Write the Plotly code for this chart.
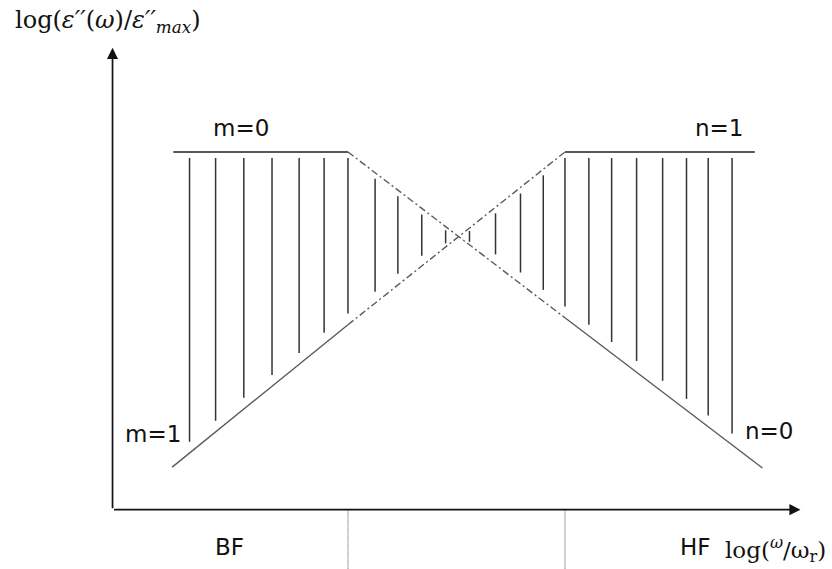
import numpy as np
import plotly.graph_objects as go

# Schematic of the dielectric loss spectrum, in decades of log(omega/omega_r)
# (x) and log(eps''/eps''_max) (y).

# low-frequency power law (slope m) and its extrapolation
rise_x = [-2.62, -1.0, 1.0]
rise_y = [-3.63, -1.99, 0.0]
# high-frequency power law (slope n-1) and its extrapolation
fall_x = [-1.0, 1.0, 2.82]
fall_y = [0.0, -1.91, -3.64]
# flat limits m=0 and n=1
flat_left_x = [-2.61, -1.0]
flat_right_x = [1.0, 2.75]
flat_y = 0.0

# hatching positions across the shaded regions
hatch_x = [-2.46, -2.22, -1.96, -1.70, -1.45, -1.22, -1.0, -0.75, -0.54, -0.32, -0.10,
           0.12, 0.36, 0.59, 0.80, 1.0, 1.22, 1.43, 1.66, 1.90, 2.12, 2.32, 2.54]

# domain boundaries (BF | middle | HF)
bound_x = [-1.0, 1.0]

# axis frame
origin = (-3.17, -4.12)
x_tip = 3.17
y_tip = 1.2

region_labels = ["BF", "HF"]
region_label_x = [-2.09, 2.20]
curve_labels = ["m=0", "m=1", "n=1", "n=0"]
curve_label_pos = [(-1.99, 0.28), (-2.80, -3.25), (2.42, 0.28), (2.88, -3.21)]

X_RANGE = [-4.207, 3.461]
Y_RANGE = [-4.804, 1.751]

fig = go.Figure()

line_col = "#222222"
slope_col = "#5a5a5a"

# flat segments
for xs in (flat_left_x, flat_right_x):
    fig.add_trace(go.Scatter(x=xs, y=[flat_y, flat_y], mode="lines",
                             line=dict(color=line_col, width=1.6),
                             hoverinfo="skip", showlegend=False))

# rising line: solid part then dash-dot extrapolation
fig.add_trace(go.Scatter(x=rise_x[:2], y=rise_y[:2], mode="lines",
                         line=dict(color=slope_col, width=1.4),
                         hoverinfo="skip", showlegend=False))
fig.add_trace(go.Scatter(x=rise_x[1:], y=rise_y[1:], mode="lines",
                         line=dict(color=slope_col, width=1.4, dash="7px,3px,2px,3px"),
                         hoverinfo="skip", showlegend=False))
# falling line: dash-dot extrapolation then solid part
fig.add_trace(go.Scatter(x=fall_x[:2], y=fall_y[:2], mode="lines",
                         line=dict(color=slope_col, width=1.4, dash="7px,3px,2px,3px"),
                         hoverinfo="skip", showlegend=False))
fig.add_trace(go.Scatter(x=fall_x[1:], y=fall_y[1:], mode="lines",
                         line=dict(color=slope_col, width=1.4),
                         hoverinfo="skip", showlegend=False))

# hatching between the envelope curves
hx, hy = [], []
for x in hatch_x:
    # beyond their drawn ranges both power laws lie above the flat limit
    r = np.interp(x, rise_x, rise_y, right=np.inf)
    f = np.interp(x, fall_x, fall_y, left=np.inf)
    upper = min(flat_y, max(r, f))
    lower = min(r, f)
    span = upper - lower
    top = upper - min(0.07, 0.18 * span)
    bot = lower + min(0.13, 0.18 * span)
    hx += [x, x, None]
    hy += [top, bot, None]
fig.add_trace(go.Scatter(x=hx, y=hy, mode="lines",
                         line=dict(color="#333333", width=1.5),
                         hoverinfo="skip", showlegend=False))

# dotted boundaries below the frequency axis
for bx in bound_x:
    fig.add_trace(go.Scatter(x=[bx, bx], y=[origin[1], Y_RANGE[0]], mode="lines",
                             line=dict(color="#444444", width=1, dash="1px,1px"),
                             hoverinfo="skip", showlegend=False))

annotations = []
# axes with arrow heads
annotations.append(dict(x=x_tip, y=origin[1], ax=origin[0], ay=origin[1],
                        xref="x", yref="y", axref="x", ayref="y", text="",
                        showarrow=True, arrowhead=2, arrowsize=1.3, arrowwidth=1.7,
                        arrowcolor="#111111", standoff=0))
annotations.append(dict(x=origin[0], y=y_tip, ax=origin[0], ay=origin[1],
                        xref="x", yref="y", axref="x", ayref="y", text="",
                        showarrow=True, arrowhead=2, arrowsize=1.3, arrowwidth=1.7,
                        arrowcolor="#111111", standoff=0))

sans = dict(family="DejaVu Sans", size=23, color="#111111")
for txt, (tx, ty) in zip(curve_labels, curve_label_pos):
    annotations.append(dict(x=tx, y=ty, xref="x", yref="y", text=txt,
                            showarrow=False, font=sans, xanchor="center"))
for txt, tx in zip(region_labels, region_label_x):
    annotations.append(dict(x=tx, y=-4.55, xref="x", yref="y", text=txt,
                            showarrow=False, font=sans, xanchor="center"))

annotations.append(dict(x=775 / 832, y=1 - 549 / 569, xref="paper", yref="paper",
                        xanchor="center", yanchor="middle",
                        text="log(<sup><i>ω</i></sup>/ω<sub>r</sub>)",
                        showarrow=False,
                        font=dict(family="DejaVu Serif", size=23, color="#111111")))
annotations.append(dict(x=108 / 832, y=1 - 22 / 569, xref="paper", yref="paper",
                        xanchor="center", yanchor="middle",
                        text="log(<i>ε′′</i>(<i>ω</i>)/<i>ε′′</i><sub><i>max</i></sub>)",
                        showarrow=False,
                        font=dict(family="DejaVu Serif", size=24, color="#111111")))

fig.update_layout(
    width=832, height=569,
    margin=dict(l=0, r=0, t=0, b=0, pad=0),
    paper_bgcolor="white", plot_bgcolor="white",
    xaxis=dict(range=X_RANGE, visible=False, fixedrange=True),
    yaxis=dict(range=Y_RANGE, visible=False, fixedrange=True),
    annotations=annotations,
    showlegend=False,
)

fig.write_html("out.html")
